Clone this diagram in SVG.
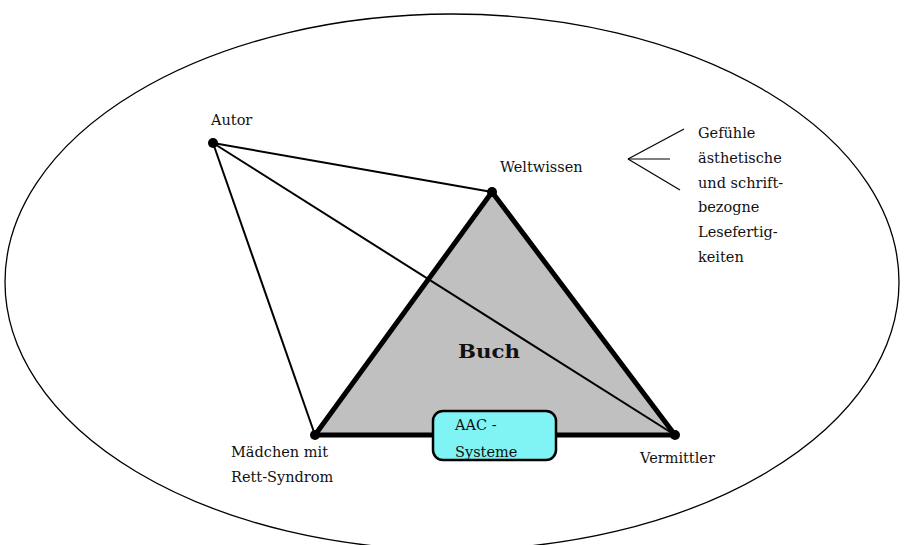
<svg xmlns="http://www.w3.org/2000/svg" width="904" height="545" viewBox="0 0 904 545">
<style>
.t{font-family:"DejaVu Serif","Liberation Serif",serif;font-size:14.5px;fill:#111}
.b{font-size:18px;font-weight:bold}
.thin{stroke:#000;stroke-width:2;fill:none}
.thick{stroke:#000;stroke-width:5;fill:none;stroke-linejoin:round}
.dot{fill:#000}
</style>
<rect width="904" height="545" fill="#fff"/>
<ellipse cx="452" cy="282" rx="447" ry="268" fill="none" stroke="#000" stroke-width="1.3"/>
<g id="buch">
<polygon points="315,435 492,192 675,435" fill="#c0c0c0"/>
<text class="t b" x="458" y="358" textLength="62" lengthAdjust="spacingAndGlyphs">Buch</text>
</g>
<g id="connectors">
<line class="thin" x1="213" y1="143" x2="492" y2="192"/>
<line class="thin" x1="213" y1="143" x2="315" y2="435"/>
<polyline class="thick" points="315,435 492,192 675,435 315,435"/>
<line class="thin" x1="213" y1="143" x2="675" y2="435"/>
<line stroke="#000" stroke-width="1.2" x1="628" y1="159" x2="684" y2="129"/>
<line stroke="#000" stroke-width="1.2" x1="628" y1="159" x2="670" y2="159"/>
<line stroke="#000" stroke-width="1.2" x1="628" y1="159" x2="680" y2="190"/>
</g>
<g id="autor">
<circle class="dot" cx="213" cy="143" r="5"/>
<text class="t" x="211" y="125">Autor</text>
</g>
<g id="weltwissen">
<circle class="dot" cx="492" cy="192" r="5"/>
<text class="t" x="500" y="172">Weltwissen</text>
</g>
<g id="lesefertigkeiten">
<text class="t" x="698" y="138">Gefühle</text>
<text class="t" x="698" y="163">ästhetische</text>
<text class="t" x="698" y="188">und schrift-</text>
<text class="t" x="698" y="212">bezogne</text>
<text class="t" x="698" y="237">Lesefertig-</text>
<text class="t" x="698" y="262">keiten</text>
</g>
<g id="maedchen">
<circle class="dot" cx="315" cy="435" r="5"/>
<text class="t" x="231" y="457">Mädchen mit</text>
<text class="t" x="231" y="482">Rett-Syndrom</text>
</g>
<g id="vermittler">
<circle class="dot" cx="675" cy="435" r="5"/>
<text class="t" x="640" y="463">Vermittler</text>
</g>
<g id="aac">
<rect x="433" y="411" width="123" height="49" rx="10" fill="#80f4f4" stroke="#000" stroke-width="2.5"/>
<text class="t" x="455" y="430">AAC -</text>
<text class="t" x="455" y="457">Systeme</text>
</g>
</svg>
